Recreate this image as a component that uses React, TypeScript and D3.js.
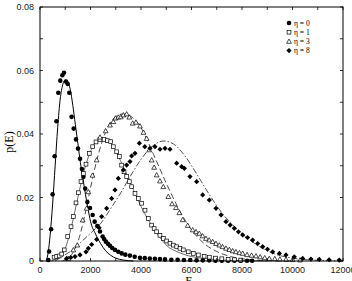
import React from "react";
import * as d3 from "d3";

const xTicksMajor = [0, 2000, 4000, 6000, 8000, 10000, 12000];
const xTicksMinor = [1000, 3000, 5000, 7000, 9000, 11000];
const yTicksMajor = [0, 0.02, 0.04, 0.06, 0.08];
const yTicksMinor = [0.01, 0.03, 0.05, 0.07];
const yTickLabels = ["0", "0.02", "0.04", "0.06", "0.08"];
const legendLabels = ["η = 0", "η = 1", "η = 3", "η = 8"];

const eta0Points: [number, number][] = [
  [330, 0.0003], [360, 0.003], [440, 0.01], [500, 0.021], [580, 0.033], [650, 0.044],
  [725, 0.053], [805, 0.0568], [885, 0.0585], [950, 0.0593], [1030, 0.0565], [1095, 0.0558],
  [1160, 0.053], [1250, 0.0454], [1335, 0.0417], [1425, 0.0383], [1505, 0.0354], [1585, 0.0322],
  [1660, 0.029], [1720, 0.0265], [1790, 0.0228], [1875, 0.0186], [1980, 0.0167], [2085, 0.0145],
  [2165, 0.0124], [2270, 0.011], [2375, 0.0093], [2480, 0.0077], [2540, 0.0069], [2610, 0.0061],
  [2690, 0.0054], [2770, 0.0048], [2860, 0.0041], [2970, 0.0035], [3100, 0.0029], [3235, 0.0024],
  [3380, 0.002], [3560, 0.0017], [3750, 0.0013], [3960, 0.001], [4150, 0.0009], [4350, 0.0008],
  [4550, 0.0007], [4750, 0.0006], [4950, 0.0005], [5200, 0.0004], [5450, 0.0004], [5700, 0.0003],
  [5950, 0.0003], [6200, 0.0002], [6450, 0.0002], [6700, 0.0002], [6950, 0.0001], [7200, 0.0001],
  [7450, 0.0001], [7700, 0.0001], [7950, 0.0001], [8200, 0.0001], [8400, 0.0001],
];

const eta1Points: [number, number][] = [
  [560, 0.0012], [660, 0.0014], [760, 0.0016], [860, 0.0022], [960, 0.0035], [1096, 0.0077],
  [1228, 0.0108], [1320, 0.014], [1426, 0.0183], [1520, 0.0215], [1624, 0.025], [1716, 0.0276],
  [1822, 0.0305], [1953, 0.0339], [2087, 0.036], [2218, 0.0375], [2376, 0.0383], [2535, 0.0383],
  [2667, 0.0379], [2800, 0.0376], [2904, 0.036], [3036, 0.0344], [3142, 0.0329], [3234, 0.0302],
  [3327, 0.0281], [3432, 0.0266], [3537, 0.025], [3630, 0.0234], [3762, 0.0213], [3894, 0.0197],
  [4026, 0.0182], [4158, 0.016], [4290, 0.0134], [4422, 0.0113], [4520, 0.0102], [4620, 0.0092],
  [4750, 0.0081], [4884, 0.0071], [5016, 0.0063], [5148, 0.0056], [5280, 0.005], [5413, 0.0045],
  [5545, 0.004], [5676, 0.0035], [5870, 0.0029], [6072, 0.0024], [6270, 0.0019], [6500, 0.0015],
  [6706, 0.0012], [6950, 0.0009], [7200, 0.0007], [7450, 0.0005], [7700, 0.0004], [7950, 0.0003],
];

const eta3Points: [number, number][] = [
  [1122, 0.0008], [1320, 0.0035], [1478, 0.005], [1690, 0.0129], [1848, 0.0166], [1914, 0.0218],
  [2080, 0.027], [2244, 0.0318], [2376, 0.039], [2600, 0.041], [2772, 0.0428], [2904, 0.0439],
  [2990, 0.045], [3102, 0.0453], [3200, 0.0454], [3300, 0.046], [3432, 0.0463], [3537, 0.0453],
  [3670, 0.0434], [3800, 0.0437], [3960, 0.0425], [4100, 0.0405], [4224, 0.0386], [4330, 0.035],
  [4422, 0.0318], [4520, 0.0295], [4620, 0.0271], [4750, 0.0252], [4884, 0.0234], [5082, 0.0203],
  [5230, 0.018], [5386, 0.0168], [5518, 0.0152], [5650, 0.013], [5850, 0.0112], [6046, 0.0098],
  [6180, 0.0092], [6310, 0.0087], [6440, 0.0079], [6574, 0.0071], [6700, 0.0066], [6838, 0.0061],
  [6970, 0.0055], [7102, 0.005], [7230, 0.0045], [7366, 0.004], [7500, 0.0036], [7630, 0.0032],
  [7760, 0.0029], [7900, 0.0026], [8026, 0.0024], [8200, 0.002], [8380, 0.0018], [8554, 0.0016],
  [8720, 0.0013], [8900, 0.001], [9082, 0.0008], [9300, 0.0007], [9500, 0.0006], [9742, 0.0005],
  [10000, 0.0004], [10300, 0.0003],
];

const eta8Points: [number, number][] = [
  [1056, 0.0008], [1220, 0.0011], [1386, 0.0014], [1584, 0.0019], [1822, 0.0029], [1914, 0.004],
  [2046, 0.0052], [2244, 0.0068], [2340, 0.0105], [2442, 0.014], [2640, 0.0166], [2838, 0.0197],
  [2970, 0.0224], [3102, 0.026], [3300, 0.0287], [3432, 0.0302], [3564, 0.0313], [3630, 0.0331],
  [3762, 0.0339], [3934, 0.0371], [4150, 0.036], [4356, 0.0355], [4554, 0.036], [4752, 0.0352],
  [4950, 0.0355], [5148, 0.0352], [5413, 0.0308], [5610, 0.0297], [5716, 0.0292], [5940, 0.0266],
  [6204, 0.025], [6442, 0.0208], [6706, 0.0192], [6970, 0.0166], [7170, 0.0145], [7366, 0.0124],
  [7530, 0.0113], [7696, 0.0103], [7860, 0.0092], [8026, 0.0082], [8220, 0.0074], [8422, 0.0066],
  [8620, 0.0055], [8818, 0.0045], [9010, 0.0037], [9214, 0.0029], [9480, 0.0024], [9742, 0.0019],
  [10070, 0.0013], [10403, 0.0008], [10730, 0.0006], [11062, 0.0005], [11450, 0.0004], [11850, 0.0003],
];

const eta0Curve: [number, number][] = [
  [250, 0], [330, 0.003], [400, 0.008], [500, 0.018], [600, 0.03], [700, 0.042], [800, 0.051],
  [900, 0.0555], [1000, 0.057], [1100, 0.0565], [1200, 0.054], [1300, 0.049], [1400, 0.043],
  [1500, 0.037], [1600, 0.031], [1700, 0.026], [1800, 0.021], [1900, 0.0165], [2000, 0.0125],
  [2200, 0.0085], [2400, 0.0055], [2600, 0.0032], [2800, 0.0018], [3000, 0.0009], [3300, 0.0003],
  [3700, 0],
];

const eta1Curve: [number, number][] = [
  [450, 0], [700, 0.001], [900, 0.0025], [1000, 0.004], [1250, 0.011], [1500, 0.02], [1750, 0.0285],
  [2000, 0.0345], [2250, 0.0378], [2500, 0.0385], [2750, 0.0375], [3000, 0.0347], [3250, 0.0305],
  [3500, 0.026], [3750, 0.0215], [4000, 0.0172], [4250, 0.0135], [4500, 0.0102], [4750, 0.0074],
  [5000, 0.005], [5500, 0.0027], [6000, 0.0014], [6500, 0.0008], [7000, 0.0004], [8000, 0.0001],
  [9000, 0],
];

const eta3Curve: [number, number][] = [
  [900, 0], [1000, 0.0005], [1250, 0.002], [1500, 0.006], [1750, 0.0135], [2000, 0.023],
  [2250, 0.0318], [2500, 0.0385], [2750, 0.0432], [3000, 0.0455], [3250, 0.0463], [3500, 0.046],
  [3750, 0.0445], [4000, 0.042], [4250, 0.038], [4500, 0.0335], [4750, 0.029], [5000, 0.0245],
  [5250, 0.0203], [5500, 0.0163], [6000, 0.0098], [6500, 0.0055], [7000, 0.003], [7500, 0.0015],
  [8000, 0.0007], [9000, 0.0001], [10000, 0],
];

const eta8Curve: [number, number][] = [
  [600, 0], [900, 0.0015], [1200, 0.003], [1700, 0.0065], [2100, 0.0095], [2400, 0.0118],
  [2800, 0.0165], [3200, 0.0215], [3600, 0.027], [4000, 0.032], [4400, 0.0358], [4900, 0.0378],
  [5300, 0.0368], [5700, 0.0335], [6200, 0.0275], [6700, 0.021], [7200, 0.0152], [7700, 0.0108],
  [8200, 0.0073], [8700, 0.0045], [9300, 0.0022], [10000, 0.0009], [11000, 0.0002], [12000, 0],
];

const W = 352;
const H = 281;
const M = { left: 40, right: 343, top: 7, bottom: 261 };

const x = d3.scaleLinear().domain([0, 12000]).range([M.left, M.right]);
const y = d3.scaleLinear().domain([0, 0.08]).range([M.bottom, M.top]);

const line = d3
  .line<[number, number]>()
  .x((d) => x(d[0]))
  .y((d) => y(d[1]))
  .curve(d3.curveMonotoneX);

type Kind = "circle" | "square" | "triangle" | "diamond";

function Marker({ cx, cy, kind }: { cx: number; cy: number; kind: Kind }) {
  if (kind === "circle") return <circle cx={cx} cy={cy} r={2.3} fill="#000" />;
  if (kind === "square")
    return <rect x={cx - 1.9} y={cy - 1.9} width={3.8} height={3.8} fill="#fff" stroke="#000" strokeWidth={0.7} />;
  if (kind === "triangle") {
    const s = 2.4;
    return (
      <path
        d={`M${cx},${cy - s}L${cx + s},${cy + s * 0.8}L${cx - s},${cy + s * 0.8}Z`}
        fill="#fff"
        stroke="#000"
        strokeWidth={0.7}
      />
    );
  }
  const s = 2.6;
  return <path d={`M${cx},${cy - s}L${cx + s},${cy}L${cx},${cy + s}L${cx - s},${cy}Z`} fill="#000" />;
}

const series: { pts: [number, number][]; kind: Kind }[] = [
  { pts: eta0Points, kind: "circle" },
  { pts: eta1Points, kind: "square" },
  { pts: eta3Points, kind: "triangle" },
  { pts: eta8Points, kind: "diamond" },
];

const curves: { pts: [number, number][]; dash?: string; color: string; width: number }[] = [
  { pts: eta0Curve, color: "#000", width: 1 },
  { pts: eta1Curve, color: "#444", width: 0.8 },
  { pts: eta3Curve, color: "#222", width: 0.8, dash: "6,3" },
  { pts: eta8Curve, color: "#222", width: 0.8, dash: "6,2,1.5,2" },
];

export default function App() {
  const tickFont = "'Liberation Sans', Arial, Helvetica, sans-serif";
  const serif = "'Liberation Serif', 'Times New Roman', serif";
  const tl = 3;
  return (
    <svg width={W} height={H} style={{ position: "absolute", left: 0, top: 0, background: "#fff" }}>
      <rect x={0} y={0} width={W} height={H} fill="#fff" />
      {curves.map((c, i) => (
        <path
          key={"c" + i}
          d={line(c.pts) || ""}
          fill="none"
          stroke={c.color}
          strokeWidth={c.width}
          strokeDasharray={c.dash}
        />
      ))}
      {series.map((s, i) => (
        <g key={"s" + i}>
          {s.pts.map((p, j) => (
            <Marker key={j} cx={x(p[0])} cy={y(p[1])} kind={s.kind} />
          ))}
        </g>
      ))}
      <rect
        x={M.left}
        y={M.top}
        width={M.right - M.left}
        height={M.bottom - M.top}
        fill="none"
        stroke="#000"
        strokeWidth={1}
      />
      {[...xTicksMajor, ...xTicksMinor].map((t, i) => (
        <g key={"xt" + i}>
          <line x1={x(t)} x2={x(t)} y1={M.bottom} y2={M.bottom - tl} stroke="#000" strokeWidth={0.8} />
          <line x1={x(t)} x2={x(t)} y1={M.top} y2={M.top + tl} stroke="#000" strokeWidth={0.8} />
        </g>
      ))}
      {[...yTicksMajor, ...yTicksMinor].map((t, i) => (
        <g key={"yt" + i}>
          <line x1={M.left} x2={M.left + tl} y1={y(t)} y2={y(t)} stroke="#000" strokeWidth={0.8} />
          <line x1={M.right} x2={M.right - tl} y1={y(t)} y2={y(t)} stroke="#000" strokeWidth={0.8} />
        </g>
      ))}
      {xTicksMajor.map((t, i) => (
        <text key={"xl" + i} x={x(t)} y={273} fontSize={9} fontFamily={tickFont} textAnchor="middle" fill="#222">
          {String(t)}
        </text>
      ))}
      {yTicksMajor.map((t, i) => (
        <text key={"yl" + i} x={34} y={y(t) + 3} fontSize={9} fontFamily={tickFont} textAnchor="end" fill="#222">
          {yTickLabels[i]}
        </text>
      ))}
      <text x={189} y={285} fontSize={12} fontFamily={serif} textAnchor="middle" fill="#000">
        E
      </text>
      <text
        transform={`translate(13,${(M.top + M.bottom) / 2 + 8}) rotate(-90)`}
        fontSize={12}
        fontFamily={serif}
        textAnchor="middle"
        fill="#000"
      >
        p(E)
      </text>
      {legendLabels.map((l, i) => {
        const ly = 23 + i * 9.2;
        const kinds: Kind[] = ["circle", "square", "triangle", "diamond"];
        return (
          <g key={"lg" + i}>
            <Marker cx={289} cy={ly} kind={kinds[i]} />
            <text x={294} y={ly + 2.6} fontSize={7.5} fontFamily={serif} fill="#000">
              {l}
            </text>
          </g>
        );
      })}
    </svg>
  );
}
